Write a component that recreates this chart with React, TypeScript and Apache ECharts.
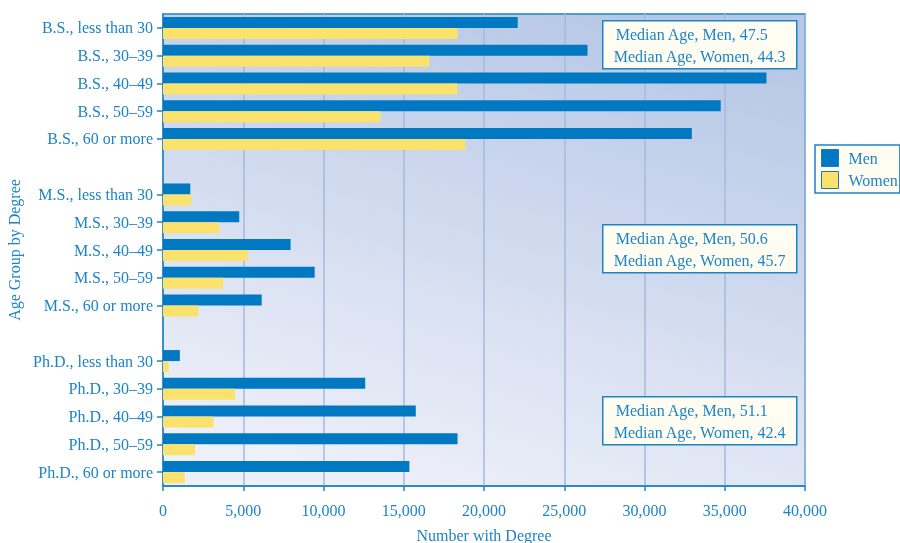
import React, { useEffect, useRef } from "react";
import * as echarts from "echarts";

// Age groups by degree, top to bottom; blank entries separate the degree blocks
const categories = [
  "B.S., less than 30",
  "B.S., 30–39",
  "B.S., 40–49",
  "B.S., 50–59",
  "B.S., 60 or more",
  "",
  "M.S., less than 30",
  "M.S., 30–39",
  "M.S., 40–49",
  "M.S., 50–59",
  "M.S., 60 or more",
  "",
  "Ph.D., less than 30",
  "Ph.D., 30–39",
  "Ph.D., 40–49",
  "Ph.D., 50–59",
  "Ph.D., 60 or more",
];

const men = [
  22100, 26450, 37600, 34750, 32950, null,
  1700, 4750, 7950, 9450, 6150, null,
  1050, 12600, 15750, 18350, 15350,
];

const women = [
  18350, 16600, 18350, 13550, 18850, null,
  1750, 3500, 5300, 3750, 2200, null,
  350, 4500, 3150, 2000, 1350,
];

const xTicks = [0, 5000, 10000, 15000, 20000, 25000, 30000, 35000, 40000];

const medianNotes = [
  ["Median Age, Men, 47.5", "Median Age, Women, 44.3"],
  ["Median Age, Men, 50.6", "Median Age, Women, 45.7"],
  ["Median Age, Men, 51.1", "Median Age, Women, 42.4"],
];

const FONT = "'Liberation Serif', 'Times New Roman', serif";
const TEXT = "#1c84c6";
const AXIS = "#1c84c6";
const MEN = "#0079c2";
const WOMEN = "#fbe26d";
const NOTE_BG = "#fffdf2";
const FS = 16;

const noteTops = [20, 224, 396];

export default function App() {
  const ref = useRef<HTMLDivElement>(null);

  useEffect(() => {
    if (!ref.current) return;
    const chart = echarts.init(ref.current, null, { renderer: "svg" });

    const notes = medianNotes.map((lines, i) => ({
      type: "group",
      left: 602,
      top: noteTops[i],
      z: 100,
      children: [
        {
          type: "rect",
          z: 100,
          shape: { x: 0, y: 0, width: 194, height: 48 },
          style: { fill: NOTE_BG, stroke: AXIS, lineWidth: 1.5 },
        },
        {
          type: "text",
          z: 101,
          x: 13,
          y: 14,
          style: {
            text: lines[0],
            fill: TEXT,
            font: `${FS}px ${FONT}`,
            textVerticalAlign: "middle",
          },
        },
        {
          type: "text",
          z: 101,
          x: 11,
          y: 36,
          style: {
            text: lines[1],
            fill: TEXT,
            font: `${FS}px ${FONT}`,
            textVerticalAlign: "middle",
          },
        },
      ],
    }));

    chart.setOption({
      animation: false,
      textStyle: { fontFamily: FONT },
      grid: {
        left: 163,
        right: 95,
        top: 14,
        bottom: 57,
        outerBoundsMode: "none",
        containLabel: false,
        show: true,
        borderColor: AXIS,
        borderWidth: 1.5,
        backgroundColor: {
          type: "linear",
          x: 0.7,
          y: 0,
          x2: 0.3,
          y2: 1,
          colorStops: [
            { offset: 0, color: "#b7c8e6" },
            { offset: 1, color: "#eef0f9" },
          ],
        },
      },
      legend: {
        orient: "vertical",
        left: 815,
        top: 145,
        padding: [4, 2, 4, 6],
        itemGap: 4,
        itemWidth: 17,
        itemHeight: 17,
        icon: "rect",
        backgroundColor: NOTE_BG,
        borderColor: AXIS,
        borderWidth: 1.5,
        borderRadius: 0,
        itemStyle: { borderColor: "#1f78b8", borderWidth: 1 },
        textStyle: {
          color: TEXT,
          fontSize: FS,
          fontFamily: FONT,
          padding: [0, 0, 0, 5],
          overflow: "none",
        },
        data: ["Men", "Women"],
      },
      xAxis: {
        type: "value",
        min: 0,
        max: 40000,
        interval: 5000,
        name: "Number with Degree",
        nameLocation: "middle",
        nameGap: 41,
        nameTextStyle: { color: TEXT, fontSize: FS, fontFamily: FONT },
        axisLine: { show: true, lineStyle: { color: AXIS, width: 1.5 } },
        axisTick: { show: true, length: 5, lineStyle: { color: AXIS, width: 1.5 } },
        axisLabel: {
          color: TEXT,
          fontSize: FS,
          fontFamily: FONT,
          margin: 16,
          formatter: (v: number) =>
            xTicks.includes(v) ? v.toLocaleString("en-US") : "",
        },
        splitLine: { show: true, lineStyle: { color: "#a3badf", width: 1.5 } },
      },
      yAxis: {
        type: "category",
        data: categories,
        inverse: true,
        name: "Age Group by Degree",
        nameLocation: "middle",
        nameGap: 135,
        nameRotate: 90,
        nameTextStyle: { color: TEXT, fontSize: FS, fontFamily: FONT },
        axisLine: { show: true, lineStyle: { color: AXIS, width: 1.5 } },
        axisTick: {
          show: true,
          alignWithLabel: true,
          length: 6,
          interval: (_i: number, v: string) => v !== "",
          lineStyle: { color: AXIS, width: 1.5 },
        },
        axisLabel: {
          color: TEXT,
          fontSize: FS,
          fontFamily: FONT,
          margin: 10,
          interval: 0,
        },
        splitLine: { show: false },
      },
      series: [
        {
          name: "Men",
          type: "bar",
          data: men,
          barWidth: 11,
          barGap: "0%",
          itemStyle: { color: MEN },
        },
        {
          name: "Women",
          type: "bar",
          data: women,
          barWidth: 11,
          barGap: "0%",
          itemStyle: { color: WOMEN },
        },
      ],
      graphic: notes,
    });

    return () => chart.dispose();
  }, []);

  return (
    <div
      ref={ref}
      style={{ position: "fixed", left: 0, top: 0, width: 900, height: 543 }}
    />
  );
}
